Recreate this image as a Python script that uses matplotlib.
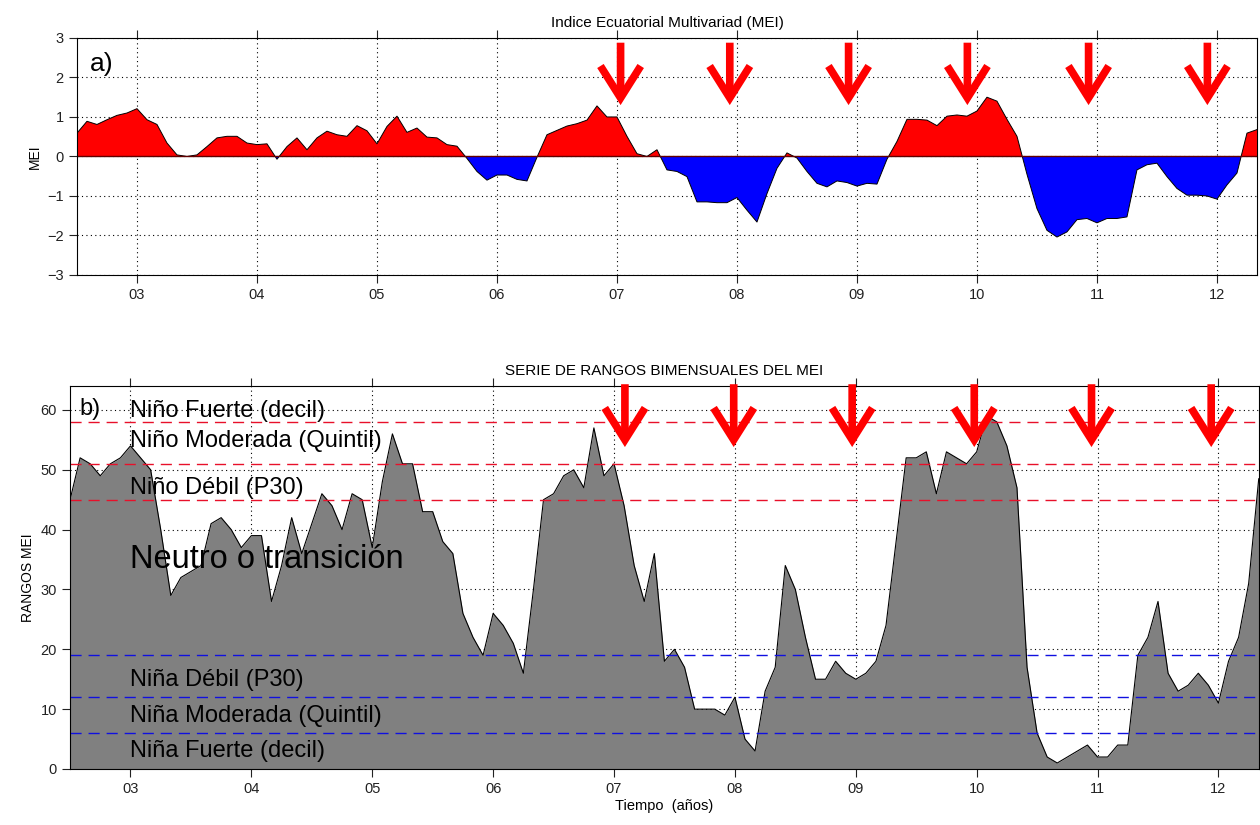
import numpy as np
import matplotlib
matplotlib.use('Agg')
import matplotlib.pyplot as plt

plt.rcParams['font.family'] = ['Liberation Sans', 'DejaVu Sans']

# Monthly (bimonthly running) values from Jul 2002 to May 2012
start_year = 2002.5
mei = [0.59, 0.89, 0.81, 0.93, 1.04, 1.10, 1.21, 0.93, 0.81, 0.34,
       0.04, 0.00, 0.04, 0.25, 0.47, 0.51, 0.51, 0.34, 0.30, 0.32,
       -0.07, 0.25, 0.47, 0.17, 0.47, 0.64, 0.55, 0.51, 0.78, 0.65,
       0.32, 0.76, 1.02, 0.61, 0.72, 0.49, 0.47, 0.30, 0.26, -0.05,
       -0.38, -0.60, -0.47, -0.47, -0.58, -0.62, -0.02, 0.55, 0.66, 0.77,
       0.83, 0.92, 1.28, 1.00, 1.00, 0.51, 0.07, 0.00, 0.17, -0.34,
       -0.38, -0.51, -1.15, -1.15, -1.17, -1.17, -1.04, -1.36, -1.66, -0.94,
       -0.30, 0.09, -0.04, -0.38, -0.68, -0.77, -0.62, -0.66, -0.75, -0.68,
       -0.70, -0.07, 0.38, 0.94, 0.94, 0.92, 0.78, 1.02, 1.05, 1.02,
       1.15, 1.50, 1.40, 0.94, 0.51, -0.45, -1.32, -1.87, -2.04, -1.91,
       -1.60, -1.57, -1.68, -1.57, -1.57, -1.53, -0.34, -0.21, -0.17, -0.51,
       -0.81, -0.98, -0.98, -1.00, -1.08, -0.72, -0.42, 0.59, 0.68]

rangos = [45, 52, 51, 49, 51, 52, 54, 52, 50, 40,
          29, 32, 33, 34, 41, 42, 40, 37, 39, 39,
          28, 34, 42, 36, 41, 46, 44, 40, 46, 45,
          37, 48, 56, 51, 51, 43, 43, 38, 36, 26,
          22, 19, 26, 24, 21, 16, 30, 45, 46, 49,
          50, 47, 57, 49, 51, 44, 34, 28, 36, 18,
          20, 17, 10, 10, 10, 9, 12, 5, 3, 13,
          17, 34, 30, 22, 15, 15, 18, 16, 15, 16,
          18, 24, 38, 52, 52, 53, 46, 53, 52, 51,
          53, 59, 58, 54, 47, 17, 6, 2, 1, 2,
          3, 4, 2, 2, 4, 4, 19, 22, 28, 16,
          13, 14, 16, 14, 11, 18, 22, 31, 48.5]

t = start_year + np.arange(len(mei)) / 12.0

# Umbrales de los rangos
umbral_nino = [58, 51, 45]
umbral_nina = [19, 12, 6]

etiquetas = ['Niño Fuerte (decil)', 'Niño Moderada (Quintil)', 'Niño Débil (P30)',
             'Neutro o transición',
             'Niña Débil (P30)', 'Niña Moderada (Quintil)', 'Niña Fuerte (decil)']
etiquetas_y = [59.8, 54.8, 47.0, 35.0, 14.9, 8.9, 3.0]

# Flechas de eventos (inicio de cada año)
flechas_a = [2007.03, 2007.94, 2008.93, 2009.92, 2010.93, 2011.92]
flechas_b = [2007.09, 2007.99, 2008.97, 2009.98, 2010.95, 2011.94]

anios = np.arange(2003, 2013)
anios_lbl = ['%02d' % (a % 100) for a in anios]

xmin, xmax = start_year, t[-1]
dotted = (0, (1, 3))
flecha = dict(arrowstyle='->,head_length=2.3,head_width=1.45',
              lw=5.5, color='red', shrinkA=0, shrinkB=0,
              capstyle='butt', joinstyle='miter')

fig = plt.figure(figsize=(12.6, 8.25), dpi=100)

# ---- a) MEI ----
ax1 = fig.add_axes([0.0611, 0.6667, 0.9365, 0.2873])
mei_arr = np.array(mei)
ax1.fill_between(t, mei_arr, 0, where=mei_arr >= 0, interpolate=True, color='#ff0000', lw=0)
ax1.fill_between(t, mei_arr, 0, where=mei_arr <= 0, interpolate=True, color='#0000ff', lw=0)
ax1.plot(t, mei_arr, color='black', lw=0.7)
ax1.axhline(0, color='#600000', lw=1.0)
ax1.set_xlim(xmin, xmax)
ax1.set_ylim(-3, 3)
ax1.set_yticks(range(-3, 4))
ax1.set_xticks(anios)
ax1.set_xticklabels(anios_lbl)
ax1.grid(True, color='black', linestyle=dotted, lw=0.8)
ax1.set_axisbelow(True)
ax1.tick_params(direction='out', length=6, labelsize=10.5, colors='#222222', top=True)
ax1.set_ylabel('MEI', fontsize=10)
ax1.set_title('Indice Ecuatorial Multivariad (MEI)', fontsize=11, pad=8)
ax1.text(0.011, 0.86, 'a)', transform=ax1.transAxes, fontsize=19)
for x in flechas_a:
    ax1.annotate('', xy=(x, 1.3), xytext=(x, 2.88), arrowprops=flecha)

# ---- b) Rangos ----
ax2 = fig.add_axes([0.0556, 0.0679, 0.9434, 0.4642])
ax2.fill_between(t, rangos, 0, color='#808080', lw=0)
ax2.plot(t, rangos, color='black', lw=0.8)
for u in umbral_nino:
    ax2.axhline(u, color='#e8102a', lw=1.0, dashes=(8, 5))
for u in umbral_nina:
    ax2.axhline(u, color='#1010e0', lw=1.0, dashes=(8, 5))
ax2.set_xlim(xmin, xmax)
ax2.set_ylim(0, 64)
ax2.set_yticks(range(0, 61, 10))
ax2.set_xticks(anios)
ax2.set_xticklabels(anios_lbl)
ax2.grid(True, color='black', linestyle=dotted, lw=0.8)
ax2.set_axisbelow(True)
ax2.tick_params(direction='out', length=6, labelsize=10.5, colors='#222222', top=True)
ax2.set_ylabel('RANGOS MEI', fontsize=10)
ax2.set_xlabel('Tiempo  (años)', fontsize=10.5, labelpad=2)
ax2.set_title('SERIE DE RANGOS BIMENSUALES DEL MEI', fontsize=11, pad=8)
ax2.text(0.008, 0.94, 'b)', transform=ax2.transAxes, fontsize=17, va='center')
for lbl, y in zip(etiquetas, etiquetas_y):
    fs = 23.5 if lbl.startswith('Neutro') else 17
    ax2.text(2003.0, y, lbl, fontsize=fs, va='center', ha='left', color='black')
for x in flechas_b:
    ax2.annotate('', xy=(x, 53.8), xytext=(x, 64.3), arrowprops=flecha,
                 annotation_clip=False)

fig.savefig('out.png', dpi=100)
